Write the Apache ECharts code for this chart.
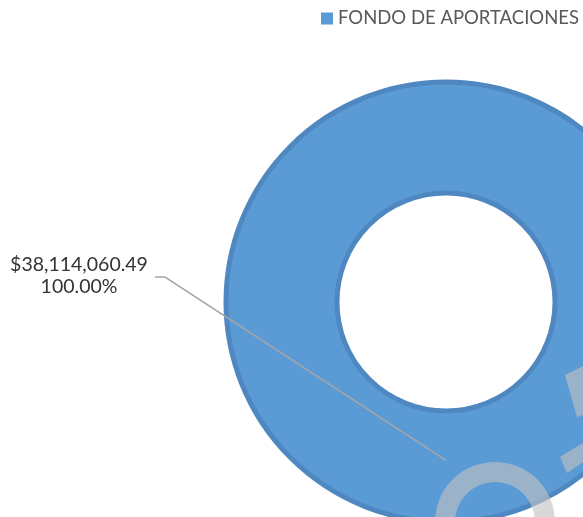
<!DOCTYPE html>
<html>
<head>
<meta charset="utf-8">
<script src="https://cdn.jsdelivr.net/npm/echarts@6/dist/echarts.min.js"></script>
<style>
  html, body { margin: 0; padding: 0; background: #fff; }
  #chart { width: 583px; height: 517px; }
</style>
</head>
<body>
<div id="chart"></div>
<script>
var categories = ['FONDO DE APORTACIONES'];
var amounts = [38114060.49];

function money(v) {
  return '$' + v.toLocaleString('en-US', { minimumFractionDigits: 2, maximumFractionDigits: 2 });
}

var chart = echarts.init(document.getElementById('chart'));

var pieData = categories.map(function (name, i) {
  return { name: name, value: amounts[i] };
});

// faded watermark left over from the scanned page
var wm = 'rgba(193,193,193,0.62)';

var option = {
  backgroundColor: '#fff',
  animation: false,
  color: ['#5b9bd5'],
  legend: {
    data: categories,
    left: 316,
    top: 4,
    icon: 'rect',
    itemWidth: 12,
    itemHeight: 12,
    itemStyle: { borderWidth: 0 },
    textStyle: {
      fontFamily: 'Lato',
      fontSize: 18.5,
      color: '#595959'
    }
  },
  graphic: [
    { type: 'ring', z: 20, silent: true, shape: { cx: 495, cy: 522, r: 60, r0: 40 }, style: { fill: wm } },
    { type: 'polygon', z: 20, silent: true, shape: { points: [[565, 375], [583, 366], [583, 415], [577, 417]] }, style: { fill: wm } },
    { type: 'polygon', z: 20, silent: true, shape: { points: [[560, 457], [583, 443], [583, 462], [567, 473]] }, style: { fill: wm } }
  ],
  series: [{
    type: 'pie',
    z: 2,
    center: [446, 302],
    radius: [109, 220],
    data: pieData,
    itemStyle: {
      borderColor: '#4f88c1',
      borderWidth: 5
    },
    emphasis: { disabled: true },
    label: { show: false },
    labelLine: { show: false }
  }, {
    // transparent copy on top, only to carry the label and its leader line
    type: 'pie',
    z: 10,
    silent: true,
    center: [446, 302],
    radius: [109, 220],
    data: pieData,
    itemStyle: { color: 'rgba(0,0,0,0)' },
    emphasis: { disabled: true },
    label: {
      show: true,
      position: 'outside',
      overflow: 'none',
      width: 200,
      fontFamily: 'Lato',
      fontSize: 19.5,
      lineHeight: 22,
      color: '#333333',
      align: 'center',
      formatter: function (p) {
        return money(p.value) + '\n' + p.percent.toFixed(2) + '%';
      }
    },
    labelLine: {
      show: true,
      lineStyle: { color: '#a6a6a6', width: 1.5 }
    },
    labelLayout: function (p) {
      var cx = p.rect.x + p.rect.width / 2;
      var cy = p.rect.y + p.rect.height / 2;
      var r = p.rect.height / 2;
      return {
        x: 79,
        y: 276,
        align: 'center',
        verticalAlign: 'middle',
        labelLinePoints: [
          [cx, cy + r * 0.72],
          [165, 277],
          [155, 277]
        ]
      };
    }
  }]
};

chart.setOption(option);
</script>
</body>
</html>
